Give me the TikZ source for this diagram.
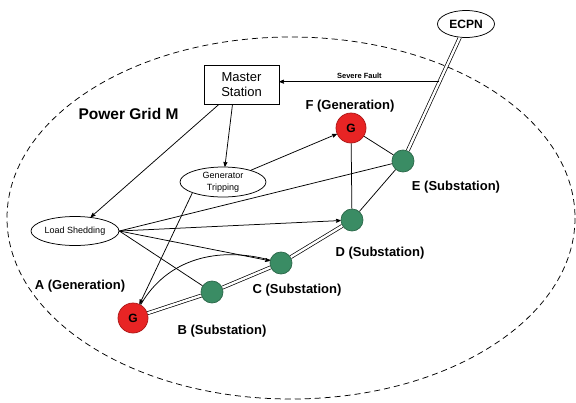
\documentclass[tikz,border=0pt]{standalone}
\usepackage{fontspec}
\setmainfont{Liberation Sans}
\usetikzlibrary{arrows,shapes.geometric,positioning}
\definecolor{genred}{RGB}{232,36,36}
\definecolor{subgreen}{RGB}{58,140,100}

\begin{document}
\begin{tikzpicture}[x=1pt,y=-1pt,>=stealth',line width=0.75pt,
                    font=\fontsize{13}{15}\selectfont]
  \tikzstyle{gen}=[circle,fill=genred,draw=genred!75!black,minimum size=30pt,inner sep=0pt,
                   font=\fontsize{12}{14}\selectfont\bfseries]
  \tikzstyle{sub}=[circle,fill=subgreen,draw=subgreen!75!black,minimum size=22pt,inner sep=0pt]
  \tikzstyle{action}=[ellipse,draw,inner sep=0pt,align=center,font=\fontsize{9}{12}\selectfont]
  \tikzstyle{lbl}=[font=\fontsize{13}{15}\selectfont\bfseries]
  \tikzstyle{tie}=[double,double distance=2.4pt,line width=0.7pt]

  \useasboundingbox (0,0) rectangle (576,402);
  \draw[dash pattern=on 6pt off 4pt] (291,218) ellipse [x radius=284, y radius=181];

  \node[rectangle,draw,minimum width=75pt,minimum height=39pt,align=center] (ms) at (241.5,84.5) {Master\\Station};
  \node[ellipse,draw,minimum width=57pt,minimum height=27pt,inner sep=0pt,
        font=\fontsize{12}{14}\selectfont\bfseries] (ecpn) at (466,24) {ECPN};
  \node[action,minimum width=86pt,minimum height=30pt] (gt) at (223,182) {Generator\\Tripping};
  \node[action,minimum width=88pt,minimum height=29pt] (ls) at (75,231) {Load Shedding};

  \node[gen] (A) at (133,318) {G};
  \node[sub] (B) at (212,292) {};
  \node[sub] (C) at (281,263) {};
  \node[sub] (D) at (352,220) {};
  \node[sub] (E) at (403,161) {};
  \node[gen] (F) at (351,128) {G};

  \node[font=\fontsize{15.5}{18}\selectfont\bfseries] (grid) at (128.5,114) {Power Grid M};
  \node[lbl] (Flbl) at (350,106) {F (Generation)};
  \node[lbl] (Elbl) at (456,187) {E (Substation)};
  \node[lbl] (Dlbl) at (380,253) {D (Substation)};
  \node[lbl] (Clbl) at (297,290) {C (Substation)};
  \node[lbl] (Blbl) at (222,331) {B (Substation)};
  \node[lbl] (Albl) at (80,286) {A (Generation)};

  % communication network feed
  \draw[tie] (ecpn) -- coordinate[pos=0.39] (tap) (E);
  \draw[->] (tap) -- (tap -| ms.east)
    node[midway,above=-1pt,font=\fontsize{7.5}{9}\selectfont\bfseries] {Severe Fault};

  \path (ms) edge[->] (ls)
        ([xshift=-9pt]ms.south) edge[->] (gt)
        (gt) edge[->] (F)
        (gt.south west) edge[->] (A)
        (ls.east) edge (E)
        (ls.east) edge[->] (D)
        (ls.east) edge[->] (C)
        (ls.east) edge (B)
        (A) edge[out=60,in=165] (C)
        (F) edge (E)
        (F) edge (D)
        (D) edge (E);

  % transmission lines
  \path (A) edge[tie] (B)
        (B) edge[tie] (C)
        (C) edge[tie] (D);
\end{tikzpicture}
\end{document}
